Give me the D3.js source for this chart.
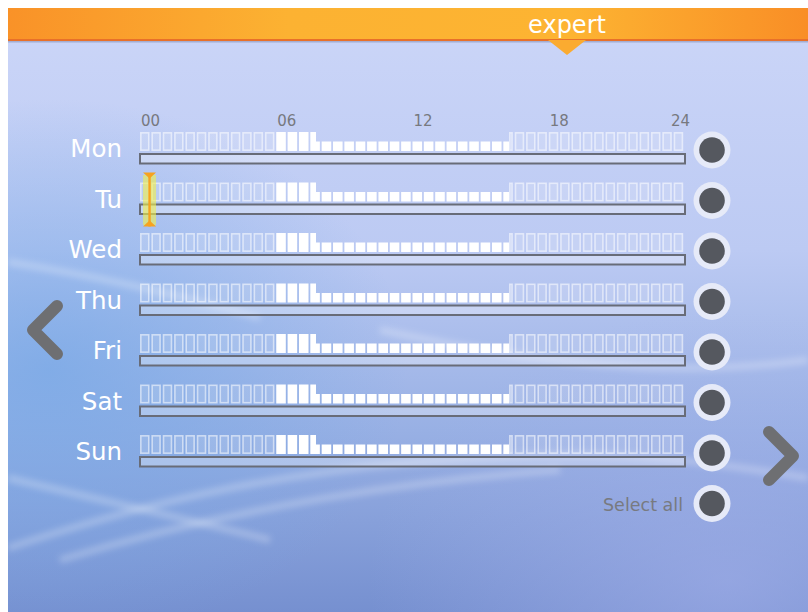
<!DOCTYPE html>
<html>
<head>
<meta charset="utf-8">
<script src="https://cdn.jsdelivr.net/npm/d3@7"></script>
<style>
  html, body { margin: 0; padding: 0; background: #ffffff; }
  svg { display: block; }
  text { font-family: "DejaVu Sans", sans-serif; }
</style>
</head>
<body>
<script>
// week schedule data (same program every day)
var days = ["Mon", "Tu", "Wed", "Thu", "Fri", "Sat", "Sun"];
var segStart = [0, 6, 7.75, 16.25];
var segEnd = [6, 7.75, 16.25, 24];
var segLevel = ["off", "comfort", "eco", "off"];
var hourTicks = [0, 6, 12, 18, 24];
var tickLabels = ["00", "06", "12", "18", "24"];
var levels = ["off", "comfort", "eco"];
var levelHeights = [19, 19, 9.5];
var cursorDay = "Tu";
var cursorHour = 0.42;

window.onload = draw();

function draw(){
    var width = 808,
        height = 612;

    var svg = d3.select("body")
        .append("svg")
        .attr("width", width)
        .attr("height", height);

    var defs = svg.append("defs");

    //background gradient
    var bg = defs.append("linearGradient")
        .attr("id", "bg")
        .attr("x1", 0).attr("y1", 0).attr("x2", 0).attr("y2", 1);
    bg.append("stop").attr("offset", 0).attr("stop-color", "#ccd6f8");
    bg.append("stop").attr("offset", 0.4).attr("stop-color", "#bccaf3");
    bg.append("stop").attr("offset", 0.7).attr("stop-color", "#98b0e4");
    bg.append("stop").attr("offset", 1).attr("stop-color", "#7690d0");

    var glow = defs.append("radialGradient")
        .attr("id", "glow")
        .attr("cx", 0.05).attr("cy", 0.6).attr("r", 0.45);
    glow.append("stop").attr("offset", 0).attr("stop-color", "#76a8e6").attr("stop-opacity", 0.75);
    glow.append("stop").attr("offset", 1).attr("stop-color", "#76a8e6").attr("stop-opacity", 0);

    var glow2 = defs.append("radialGradient")
        .attr("id", "glow2")
        .attr("cx", 0.9).attr("cy", 0.95).attr("r", 0.45);
    glow2.append("stop").attr("offset", 0).attr("stop-color", "#a4b0ea").attr("stop-opacity", 0.6);
    glow2.append("stop").attr("offset", 1).attr("stop-color", "#a4b0ea").attr("stop-opacity", 0);

    var head = defs.append("linearGradient")
        .attr("id", "head")
        .attr("x1", 0).attr("y1", 0).attr("x2", 1).attr("y2", 0);
    head.append("stop").attr("offset", 0).attr("stop-color", "#f99228");
    head.append("stop").attr("offset", 0.35).attr("stop-color", "#fcb232");
    head.append("stop").attr("offset", 0.7).attr("stop-color", "#fdb432");
    head.append("stop").attr("offset", 1).attr("stop-color", "#f98e26");

    defs.append("filter")
        .attr("id", "soft")
        .append("feGaussianBlur")
        .attr("stdDeviation", 3);

    svg.append("rect")
        .attr("x", 8).attr("y", 8)
        .attr("width", width - 8).attr("height", height - 8)
        .attr("fill", "url(#bg)");
    svg.append("rect")
        .attr("x", 8).attr("y", 8)
        .attr("width", width - 8).attr("height", height - 8)
        .attr("fill", "url(#glow)");
    svg.append("rect")
        .attr("x", 8).attr("y", 8)
        .attr("width", width - 8).attr("height", height - 8)
        .attr("fill", "url(#glow2)");

    //soft swooshes
    var swooshes = [
        "M8,262 C90,275 170,292 260,318",
        "M8,548 C140,505 260,475 420,462 S650,452 808,478",
        "M8,478 C100,500 190,520 270,540",
        "M60,560 C240,505 420,480 560,470",
        "M380,330 C520,360 660,380 808,360"
    ];
    svg.append("g")
        .attr("filter", "url(#soft)")
        .selectAll(".swoosh")
        .data(swooshes)
        .enter()
        .append("path")
        .attr("class", "swoosh")
        .attr("d", function(d){ return d; })
        .attr("fill", "none")
        .attr("stroke", "#ffffff")
        .attr("stroke-opacity", 0.25)
        .attr("stroke-width", 7);

    //header bar
    svg.append("rect")
        .attr("x", 8).attr("y", 8)
        .attr("width", width - 8).attr("height", 32)
        .attr("fill", "url(#head)");
    svg.append("rect")
        .attr("x", 8).attr("y", 39)
        .attr("width", width - 8).attr("height", 2)
        .attr("fill", "#e8702a");
    svg.append("rect")
        .attr("x", 8).attr("y", 41)
        .attr("width", width - 8).attr("height", 1.5)
        .attr("fill", "#8a93b8").attr("opacity", 0.6);
    svg.append("path")
        .attr("d", "M548,40 L586,40 L567,55 Z")
        .attr("fill", "#fbab30");
    svg.append("text")
        .attr("x", 567).attr("y", 33)
        .attr("text-anchor", "middle")
        .attr("font-size", 24)
        .attr("fill", "#ffffff")
        .text("expert");

    //scales
    var x = d3.scaleLinear()
        .domain([0, 24])
        .range([140, 685]);

    var y = d3.scalePoint()
        .domain(days)
        .range([132, 132 + 6 * 50.5]);

    var levelH = d3.scaleOrdinal()
        .domain(levels)
        .range(levelHeights);

    var fullH = 19;

    //hour labels
    svg.selectAll(".hour")
        .data(hourTicks)
        .enter()
        .append("text")
        .attr("class", "hour")
        .attr("x", function(d, i){ return i === hourTicks.length - 1 ? x(d) + 5 : x(d) + 1; })
        .attr("y", 126)
        .attr("text-anchor", function(d, i){ return i === hourTicks.length - 1 ? "end" : "start"; })
        .attr("font-size", 15)
        .attr("fill", "#77797f")
        .text(function(d, i){ return tickLabels[i]; });

    //build slot pieces: 48 half-hour slots cut by schedule segments
    var pieces = [];
    for (var s = 0; s < 48; s++){
        var a = s * 0.5, b = a + 0.5;
        for (var k = 0; k < segStart.length; k++){
            var p0 = Math.max(a, segStart[k]), p1 = Math.min(b, segEnd[k]);
            if (p1 > p0){
                pieces.push({ start: p0, end: p1, slotEnd: b, level: segLevel[k] });
            }
        }
    }

    var gap = 1.8;

    var rows = svg.selectAll(".row")
        .data(days)
        .enter()
        .append("g")
        .attr("class", "row")
        .attr("transform", function(d){ return "translate(0," + y(d) + ")"; });

    rows.append("text")
        .attr("x", 122)
        .attr("y", 25)
        .attr("text-anchor", "end")
        .attr("font-size", 24.5)
        .attr("fill", "#ffffff")
        .text(function(d){ return d; });

    //track bar
    rows.append("rect")
        .attr("x", x(0))
        .attr("y", 22)
        .attr("width", x(24) - x(0))
        .attr("height", 9.5)
        .attr("fill", "#ffffff")
        .attr("fill-opacity", 0.3)
        .attr("stroke", "#686c78")
        .attr("stroke-width", 2);

    //schedule pieces
    rows.selectAll(".piece")
        .data(function(){ return pieces; })
        .enter()
        .append("rect")
        .attr("class", "piece")
        .each(function(d){
            var sel = d3.select(this);
            var x0 = x(d.start);
            var x1 = Math.min(x(d.end), x(d.slotEnd) - gap);
            var h = levelH(d.level);
            if (d.level === "off"){
                sel.attr("x", x0 + 0.8)
                    .attr("y", 0.8)
                    .attr("width", Math.max(0, x1 - x0 - 1.6))
                    .attr("height", h - 1.6)
                    .attr("fill", "#ffffff")
                    .attr("fill-opacity", 0.15)
                    .attr("stroke", "#ffffff")
                    .attr("stroke-opacity", 0.55)
                    .attr("stroke-width", 1.6);
            } else {
                sel.attr("x", x0)
                    .attr("y", fullH - h)
                    .attr("width", Math.max(0, x1 - x0))
                    .attr("height", h)
                    .attr("fill", "#ffffff");
            }
        });

    //selection buttons
    var buttons = days.concat(["all"]);
    var by = function(i){ return y(days[0]) + 18 + i * 50.5; };
    svg.selectAll(".ring")
        .data(buttons)
        .enter()
        .append("circle")
        .attr("class", "ring")
        .attr("cx", 712)
        .attr("cy", function(d, i){ return by(i); })
        .attr("r", 18.5)
        .attr("fill", "#e6eaf8");
    svg.selectAll(".dot")
        .data(buttons)
        .enter()
        .append("circle")
        .attr("class", "dot")
        .attr("cx", 712)
        .attr("cy", function(d, i){ return by(i); })
        .attr("r", 12.8)
        .attr("fill", "#55585f");

    svg.append("text")
        .attr("x", 683)
        .attr("y", by(7) + 7)
        .attr("text-anchor", "end")
        .attr("font-size", 17.5)
        .attr("fill", "#787a80")
        .text("Select all");

    //cursor marker
    var cx = x(cursorHour), cy = y(cursorDay);
    svg.append("rect")
        .attr("x", cx - 6.5).attr("y", cy - 7.5)
        .attr("width", 13).attr("height", 50)
        .attr("fill", "#f2f04a")
        .attr("opacity", 0.6);
    svg.append("rect")
        .attr("x", cx - 1.2).attr("y", cy - 9)
        .attr("width", 2.4).attr("height", 53)
        .attr("fill", "#f7a21e");
    svg.append("path")
        .attr("d", "M" + (cx - 6.5) + "," + (cy - 10) + " L" + (cx + 6.5) + "," + (cy - 10) + " L" + cx + "," + (cy - 4) + " Z")
        .attr("fill", "#f7a21e");
    svg.append("path")
        .attr("d", "M" + (cx - 6.5) + "," + (cy + 44) + " L" + (cx + 6.5) + "," + (cy + 44) + " L" + cx + "," + (cy + 38) + " Z")
        .attr("fill", "#f7a21e");

    //navigation arrows
    svg.append("path")
        .attr("d", "M57,306 L33,330 L57,354")
        .attr("fill", "none")
        .attr("stroke", "#6e6f72")
        .attr("stroke-width", 12)
        .attr("stroke-linecap", "round")
        .attr("stroke-linejoin", "round");
    svg.append("path")
        .attr("d", "M769,432 L793,456 L769,480")
        .attr("fill", "none")
        .attr("stroke", "#6e6f72")
        .attr("stroke-width", 12)
        .attr("stroke-linecap", "round")
        .attr("stroke-linejoin", "round");
}
</script>
</body>
</html>
